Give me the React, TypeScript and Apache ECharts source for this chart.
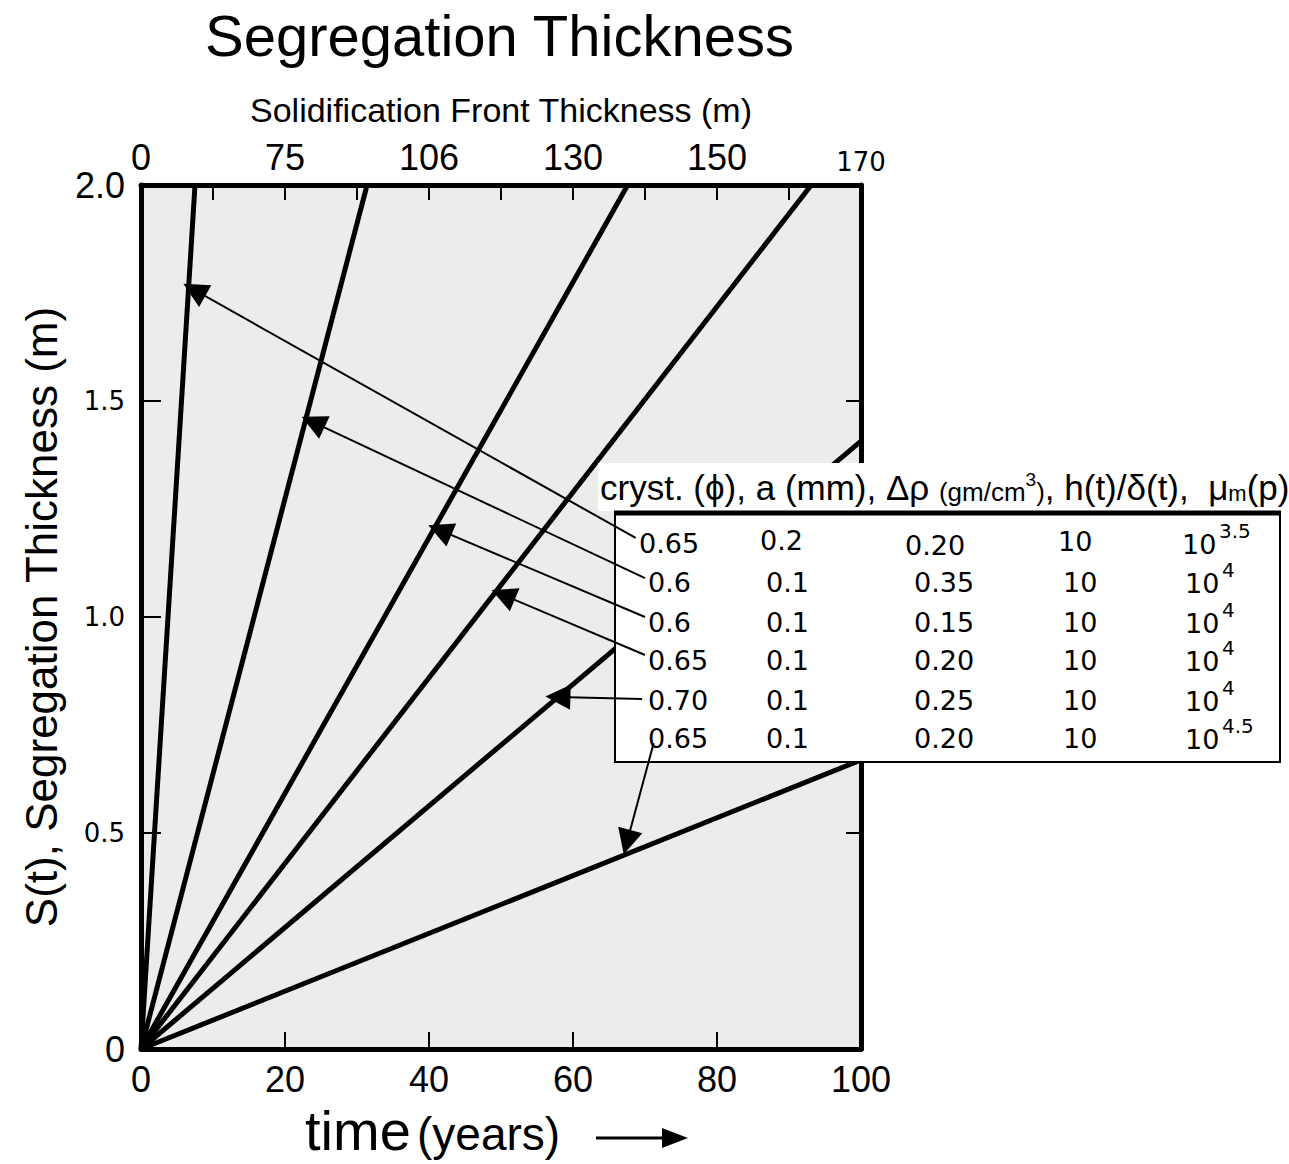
import React, { useEffect, useRef } from 'react';
import * as echarts from 'echarts';

// Segregation thickness lines, all starting at the origin (time 0, S 0)
const lineEndYear = [7.5, 31.4, 67.6, 93.1, 100, 100];
const lineEndS = [2.0, 2.0, 2.0, 2.0, 1.407, 0.669];

// Top axis: solidification front thickness labels at given years
const topTickYears = [0, 20, 40, 60, 80, 100];
const topTickLabels = ['0', '75', '106', '130', '150', '170'];

// Table of parameters (one row per line)
const colPhi = ['0.65', '0.6', '0.6', '0.65', '0.70', '0.65'];
const colA = ['0.2', '0.1', '0.1', '0.1', '0.1', '0.1'];
const colDRho = ['0.20', '0.35', '0.15', '0.20', '0.25', '0.20'];
const colH = ['10', '10', '10', '10', '10', '10'];
const colMuExp = ['3.5', '4', '4', '4', '4', '4.5'];

// Arrows from table rows to lines (data coords: years, metres)
const arrowFromYear = [68.7, 70.0, 70.0, 70.0, 69.6, 71.2];
const arrowFromS = [1.183, 1.09, 1.0, 0.912, 0.81, 0.708];
const arrowToYear = [7.4, 23.9, 41.5, 50.3, 57.9, 67.5];
const arrowToS = [1.757, 1.451, 1.201, 1.051, 0.815, 0.479];

const SANS = "'Liberation Sans', Arial, sans-serif";
const WIDE = "'DejaVu Sans', Verdana, sans-serif";

export default function App() {
  const ref = useRef<HTMLDivElement>(null);
  useEffect(() => {
    if (!ref.current) return;
    const chart = echarts.init(ref.current, null, { renderer: 'svg' });

    const lineSeries = lineEndYear.map((t, i) => ({
      type: 'line',
      name: 'line' + i,
      data: [[0, 0], [t, lineEndS[i]]],
      showSymbol: false,
      symbol: 'none',
      lineStyle: { color: '#000', width: 5 },
      z: 2,
      silent: true,
    }));

    const arrowSeries = {
      type: 'line',
      name: 'arrows',
      data: [],
      z: 60,
      silent: true,
      markLine: {
        z: 60,
        silent: true,
        animation: false,
        symbol: ['none', 'triangle'],
        symbolSize: 25,
        label: { show: false },
        emphasis: { disabled: true },
        lineStyle: { color: '#000', width: 2, type: 'solid' },
        data: arrowFromYear.map((t, i) => [
          { coord: [t, arrowFromS[i]] },
          { coord: [arrowToYear[i], arrowToS[i]] },
        ]),
      },
    };

    const rowY = [543, 582, 622, 660, 700, 738];
    const cellFont = { fontFamily: WIDE, fontSize: 27, fill: '#000' };
    const graphics: any[] = [
      { type: 'rect', z: 50, shape: { x: 598, y: 463, width: 691, height: 48 }, style: { fill: '#fff' } },
      { type: 'rect', z: 50, shape: { x: 615, y: 512, width: 665, height: 250 }, style: { fill: '#fff', stroke: '#000', lineWidth: 2 } },
      { type: 'line', z: 51, shape: { x1: 614, y1: 513, x2: 1281, y2: 513 }, style: { stroke: '#000', lineWidth: 5 } },
      {
        type: 'text', z: 52, x: 600, y: 487,
        style: {
          text: 'cryst. (ϕ), a (mm), Δρ {s|(gm/cm}{sup|3}{s|)}, h(t)/δ(t),  μ{sub|m}(p)',
          fontFamily: SANS, fontSize: 35, fill: '#000', verticalAlign: 'middle', align: 'left',
          rich: {
            s: { fontFamily: SANS, fontSize: 26, fill: '#000', verticalAlign: 'bottom' },
            sup: { fontFamily: SANS, fontSize: 19, fill: '#000', verticalAlign: 'top' },
            sub: { fontFamily: SANS, fontSize: 22, fill: '#000', verticalAlign: 'bottom' },
          },
        },
      },
      // x axis name with arrow
      { type: 'text', z: 52, x: 305, y: 1130, style: { text: 'time', fontFamily: SANS, fontSize: 56, fill: '#000', verticalAlign: 'middle', align: 'left' } },
      { type: 'text', z: 52, x: 417, y: 1134, style: { text: '(years)', fontFamily: SANS, fontSize: 46, fill: '#000', verticalAlign: 'middle', align: 'left' } },
      { type: 'line', z: 52, shape: { x1: 596, y1: 1138, x2: 670, y2: 1138 }, style: { stroke: '#000', lineWidth: 3 } },
      { type: 'polygon', z: 52, shape: { points: [[662, 1128], [688, 1138], [662, 1148]] }, style: { fill: '#000' } },
    ];

    rowY.forEach((y, i) => {
      const first = i === 0;
      graphics.push({ type: 'text', z: 52, x: first ? 639 : 648, y, style: { ...cellFont, text: colPhi[i], verticalAlign: 'middle' } });
      graphics.push({ type: 'text', z: 52, x: first ? 760 : 766, y: first ? y - 3 : y, style: { ...cellFont, text: colA[i], verticalAlign: 'middle' } });
      graphics.push({ type: 'text', z: 52, x: first ? 905 : 914, y: first ? y + 2 : y, style: { ...cellFont, text: colDRho[i], verticalAlign: 'middle' } });
      graphics.push({ type: 'text', z: 52, x: first ? 1058 : 1063, y: first ? y - 2 : y, style: { ...cellFont, text: colH[i], verticalAlign: 'middle' } });
      const bx = first ? 1182 : 1185;
      graphics.push({ type: 'text', z: 52, x: bx, y: y + 1, style: { ...cellFont, text: '10', verticalAlign: 'middle' } });
      graphics.push({ type: 'text', z: 52, x: bx + 37, y: y - 12, style: { fontFamily: WIDE, fontSize: 20, fill: '#000', text: colMuExp[i], verticalAlign: 'middle' } });
    });

    const axisLine = { show: true, onZero: false, lineStyle: { color: '#000', width: 5 } };

    chart.setOption({
      animation: false,
      backgroundColor: '#fff',
      title: {
        text: 'Segregation Thickness',
        left: 200,
        top: 1,
        textStyle: { fontFamily: SANS, fontSize: 58, fontWeight: 'normal', color: '#000' },
      },
      grid: { left: 141, top: 185, width: 720, height: 864, show: true, backgroundColor: '#ececec', borderWidth: 0 },
      xAxis: [
        {
          type: 'value', position: 'bottom', min: 0, max: 100, interval: 20,
          axisLine,
          axisTick: { show: true, inside: true, length: 17, lineStyle: { color: '#000', width: 2 } },
          splitLine: { show: false },
          axisLabel: { show: true, margin: 12, color: '#000', fontFamily: SANS, fontSize: 36, showMinLabel: true, showMaxLabel: true },
        },
        {
          type: 'value', position: 'top', min: 0, max: 100, interval: 10,
          name: 'Solidification Front Thickness (m)', nameLocation: 'middle', nameGap: 58,
          nameTextStyle: { fontFamily: SANS, fontSize: 34, color: '#000' },
          axisLine,
          axisTick: { show: true, inside: true, length: 15, lineStyle: { color: '#000', width: 2 } },
          splitLine: { show: false },
          axisLabel: {
            show: true, margin: 10, color: '#000', showMinLabel: true, showMaxLabel: true,
            formatter: (v: number) => {
              const i = topTickYears.indexOf(Math.round(v));
              if (i < 0) return '';
              return i === topTickYears.length - 1 ? '{w|' + topTickLabels[i] + '}' : '{n|' + topTickLabels[i] + '}';
            },
            rich: {
              n: { fontFamily: SANS, fontSize: 36, color: '#000' },
              w: { fontFamily: WIDE, fontSize: 26, color: '#000', padding: [8, 0, 0, 0] },
            },
          },
        },
      ],
      yAxis: [
        {
          type: 'value', position: 'left', min: 0, max: 2, interval: 0.5,
          name: 'S(t), Segregation Thickness (m)', nameLocation: 'middle', nameGap: 78, nameRotate: 90,
          nameTextStyle: { fontFamily: SANS, fontSize: 44, color: '#000' },
          axisLine,
          axisTick: { show: true, inside: true, length: 20, lineStyle: { color: '#000', width: 2 } },
          splitLine: { show: false },
          axisLabel: {
            show: true, margin: 16, color: '#000', showMinLabel: true, showMaxLabel: true,
            formatter: (v: number) => (v === 0 ? '{n|0}' : v === 2 ? '{n|2.0}' : '{w|' + v.toFixed(1) + '}'),
            rich: {
              n: { fontFamily: SANS, fontSize: 36, color: '#000' },
              w: { fontFamily: WIDE, fontSize: 26, color: '#000' },
            },
          },
        },
        {
          type: 'value', position: 'right', min: 0, max: 2, interval: 0.5,
          axisLine,
          axisTick: { show: true, inside: true, length: 15, lineStyle: { color: '#000', width: 2 } },
          splitLine: { show: false },
          axisLabel: { show: false },
        },
      ],
      series: [...lineSeries, arrowSeries],
      graphic: graphics,
    } as any);

    return () => chart.dispose();
  }, []);

  return (
    <div
      ref={ref}
      style={{ position: 'absolute', left: 0, top: 0, width: 1289, height: 1164 }}
    />
  );
}
